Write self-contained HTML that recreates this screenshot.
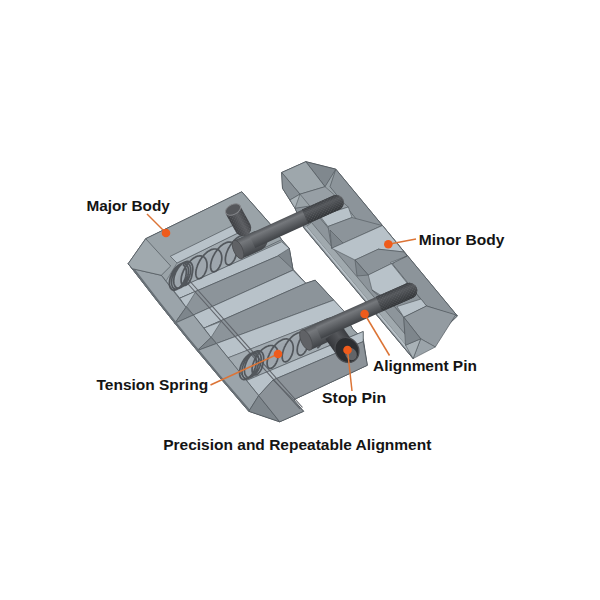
<!DOCTYPE html>
<html><head><meta charset="utf-8"><style>html,body{margin:0;padding:0;background:#fff;}svg{display:block}</style></head>
<body><svg width="600" height="600" viewBox="0 0 600 600">
<rect width="600" height="600" fill="#fff"/>
<polygon points="281.7,172.5 305.8,161.7 335.8,169.2 457.4,316.0 413.1,358.6 304.0,228.0 295.0,208.3 282.5,188.3" fill="#9aa3a8" stroke="#50575d" stroke-width="1" stroke-linejoin="round"/>
<polygon points="295.0,208.3 309.8,206.0 403.8,317.2 405.5,345.2 413.1,358.6 304.0,228.0" fill="#8d959b" stroke="#50575d" stroke-width="0.7" stroke-linejoin="round"/>
<polygon points="306.5,226.5 414.8,356.2 420.0,352.0 311.5,222.5" fill="#a0a9ae" stroke="#50575d" stroke-width="0.6" stroke-linejoin="round"/>
<polygon points="305.0,227.3 414.0,357.9 415.4,356.8 306.4,226.2" fill="#b8c1c7" stroke="none" stroke-width="0" stroke-linejoin="round"/>
<polygon points="335.8,169.2 457.4,316.0 426.5,306.0 330.0,186.7" fill="#8c949a" stroke="#50575d" stroke-width="0.7" stroke-linejoin="round"/>
<polygon points="305.8,161.7 335.8,169.2 325.0,186.7" fill="#80888e" stroke="#50575d" stroke-width="0.7" stroke-linejoin="round"/>
<polygon points="281.7,172.5 305.8,161.7 325.0,186.7 300.0,194.2" fill="#9ea7ac" stroke="#50575d" stroke-width="0.7" stroke-linejoin="round"/>
<polygon points="281.7,172.5 300.0,194.2 290.0,200.0 282.5,188.3" fill="#899197" stroke="#50575d" stroke-width="0.6" stroke-linejoin="round"/>
<polygon points="290.0,200.0 300.0,194.2 295.0,208.3" fill="#aab3b8" stroke="#50575d" stroke-width="0.6" stroke-linejoin="round"/>
<polygon points="300.0,194.2 325.0,186.7 348.3,207.0 320.0,216.0 309.8,206.0" fill="#979fa5" stroke="#50575d" stroke-width="0.6" stroke-linejoin="round"/>
<polygon points="320.0,216.0 348.3,207.0 352.0,217.5 328.0,226.5" fill="#b8c2c9" stroke="#50575d" stroke-width="0.6" stroke-linejoin="round"/>
<polygon points="328.0,226.5 352.0,217.5 382.0,225.5 331.7,248.3" fill="#8c949a" stroke="#50575d" stroke-width="0.6" stroke-linejoin="round"/>
<polygon points="330.0,230.0 331.7,248.3 343.3,243.3" fill="#7e868c" stroke="#50575d" stroke-width="0.6" stroke-linejoin="round"/>
<polygon points="331.7,248.3 382.4,225.5 404.0,252.0 378.3,249.2 355.0,260.0" fill="#b8c2c9" stroke="#50575d" stroke-width="0.6" stroke-linejoin="round"/>
<polygon points="378.3,249.2 403.3,255.0 393.3,263.3" fill="#7b8389" stroke="#50575d" stroke-width="0.6" stroke-linejoin="round"/>
<polygon points="355.0,260.0 378.3,249.2 404.0,252.0 407.0,256.0 368.3,275.0" fill="#8c949a" stroke="#50575d" stroke-width="0.6" stroke-linejoin="round"/>
<polygon points="355.0,260.0 357.0,276.0 368.3,275.0" fill="#7e868c" stroke="#50575d" stroke-width="0.6" stroke-linejoin="round"/>
<polygon points="368.3,275.0 407.0,256.0 390.5,262.5 407.0,283.0 385.0,301.0 372.0,290.0" fill="#b8c2c9" stroke="#50575d" stroke-width="0.6" stroke-linejoin="round"/>
<polygon points="372.0,290.0 385.0,301.0 407.0,283.0 426.5,306.0 403.8,317.2 388.8,300.0" fill="#8c949a" stroke="#50575d" stroke-width="0.6" stroke-linejoin="round"/>
<polygon points="397.0,306.5 421.0,299.0 426.5,306.0 403.8,317.2" fill="#b8c2c9" stroke="#50575d" stroke-width="0.6" stroke-linejoin="round"/>
<polygon points="403.8,317.2 426.5,306.0 455.7,314.8 435.3,347.0 420.7,338.8" fill="#939ba1" stroke="#50575d" stroke-width="0.7" stroke-linejoin="round"/>
<polygon points="420.7,338.8 435.3,347.0 413.1,358.6" fill="#9ba4aa" stroke="#50575d" stroke-width="0.6" stroke-linejoin="round"/>
<polygon points="405.5,345.2 420.7,338.8 413.1,358.6" fill="#a9b2b7" stroke="#50575d" stroke-width="0.6" stroke-linejoin="round"/>
<polygon points="403.8,317.2 420.7,338.8 405.5,345.2" fill="#7e868c" stroke="#50575d" stroke-width="0.6" stroke-linejoin="round"/>
<polygon points="128.2,263.7 145.7,238.7 241.8,191.8 269.5,223.2 281.7,239.7 289.3,248.4 292.9,269.2 305.8,283.3 315.2,280.2 342.7,310.0 353.0,329.5 363.2,338.7 367.3,365.3 293.7,399.7 303.6,411.3 279.7,421.8 248.8,411.3 217.6,375.0 186.3,337.5 156.3,300.0" fill="#9aa3a8" stroke="#50575d" stroke-width="1" stroke-linejoin="round"/>
<polygon points="145.7,238.7 241.8,191.8 269.5,223.2 281.7,239.7 173.5,290.4 161.3,275.3" fill="#9aa3a8" stroke="#50575d" stroke-width="0.7" stroke-linejoin="round"/>
<polygon points="177.0,263.0 248.0,228.0 248.0,256.9 173.5,290.4 166.0,281.0" fill="#a2abb1" stroke="#50575d" stroke-width="0.5" stroke-linejoin="round"/>
<polygon points="170.3,256.3 237.0,223.5 241.0,231.5 177.0,263.0" fill="#b8c2c9" stroke="#50575d" stroke-width="0.7" stroke-linejoin="round"/>
<polygon points="173.5,290.4 281.7,241.7 289.3,248.4 289.3,251.1 179.8,298.2" fill="#b8c2c9" stroke="#50575d" stroke-width="0.7" stroke-linejoin="round"/>
<polygon points="179.8,298.2 289.3,251.1 292.9,269.2 292.9,270.2 193.4,315.0" fill="#8c949a" stroke="#50575d" stroke-width="0.7" stroke-linejoin="round"/>
<polygon points="278.2,255.4 289.3,248.4 292.9,269.2" fill="#7e868c" stroke="#50575d" stroke-width="0.6" stroke-linejoin="round"/>
<polygon points="193.4,315.0 292.9,270.2 305.8,283.3 204.0,328.1" fill="#b8c2c9" stroke="#50575d" stroke-width="0.7" stroke-linejoin="round"/>
<polygon points="204.0,328.1 305.8,283.3 315.2,280.2 333.7,300.1 216.5,343.5" fill="#8c949a" stroke="#50575d" stroke-width="0.7" stroke-linejoin="round"/>
<polygon points="216.5,343.5 333.7,300.1 345.0,312.2 228.1,357.8" fill="#b8c2c9" stroke="#50575d" stroke-width="0.7" stroke-linejoin="round"/>
<polygon points="228.1,357.8 345.0,312.2 350.0,337.0 246.5,380.5" fill="#a2abb1" stroke="#50575d" stroke-width="0.5" stroke-linejoin="round"/>
<polygon points="342.0,313.4 353.0,329.5 363.2,338.7 363.2,331.5 345.0,339.1" fill="#9aa3a8" stroke="#50575d" stroke-width="0.6" stroke-linejoin="round"/>
<polygon points="246.5,380.5 363.2,331.5 363.2,341.6 273.0,380.0 258.7,395.6" fill="#b8c2c9" stroke="#50575d" stroke-width="0.7" stroke-linejoin="round"/>
<polygon points="273.0,380.0 363.2,341.6 367.3,365.3 293.7,399.7" fill="#8c9399" stroke="#50575d" stroke-width="0.7" stroke-linejoin="round"/>
<polygon points="179.8,298.2 196.0,291.2 186.0,307.3" fill="#b8c2c9" stroke="#50575d" stroke-width="0.6" stroke-linejoin="round"/>
<polygon points="204.0,328.1 221.0,321.6 211.0,337.5" fill="#b8c2c9" stroke="#50575d" stroke-width="0.6" stroke-linejoin="round"/>
<polygon points="128.2,263.7 132.3,268.7 161.3,275.3 186.0,307.3 174.8,323.3" fill="#9ba4aa" stroke="#50575d" stroke-width="0.7" stroke-linejoin="round"/>
<polygon points="186.0,307.3 174.8,323.3 193.4,315.0" fill="#7e868c" stroke="#50575d" stroke-width="0.6" stroke-linejoin="round"/>
<polygon points="174.8,323.3 193.4,315.0 211.0,337.5 197.1,350.7" fill="#9ba4aa" stroke="#50575d" stroke-width="0.7" stroke-linejoin="round"/>
<polygon points="211.0,337.5 197.1,350.7 216.5,343.5" fill="#7e868c" stroke="#50575d" stroke-width="0.6" stroke-linejoin="round"/>
<polygon points="197.1,350.7 216.5,343.5 258.7,395.6 248.8,411.3" fill="#9ba4aa" stroke="#50575d" stroke-width="0.7" stroke-linejoin="round"/>
<polygon points="128.2,263.7 156.3,300.0 186.3,337.5 217.6,375.0 248.8,411.3 250.2,410.1 219.1,374.0 187.8,336.5 157.8,299.0 129.8,262.6" fill="#687076" stroke="none" stroke-width="0" stroke-linejoin="round"/>
<polygon points="145.7,238.7 128.2,263.7 132.3,268.7 161.3,275.3 170.7,266.0" fill="#a0a9ae" stroke="#50575d" stroke-width="0.7" stroke-linejoin="round"/>
<polygon points="248.8,411.3 258.7,395.6 279.7,421.8" fill="#7e868c" stroke="#50575d" stroke-width="0.7" stroke-linejoin="round"/>
<polygon points="258.7,395.6 273.0,380.0 303.6,411.3 279.7,421.8" fill="#8b9298" stroke="#50575d" stroke-width="0.7" stroke-linejoin="round"/>
<defs><pattern id="knurl" width="2.2" height="2.2" patternUnits="userSpaceOnUse" patternTransform="rotate(30)"><rect width="2.2" height="2.2" fill="none"/><rect width="1.1" height="1.1" fill="#6a6c70"/></pattern><linearGradient id="g1" gradientUnits="userSpaceOnUse" x1="245.2" y1="215.0" x2="230.8" y2="223.0"><stop offset="0" stop-color="#3e4044"/><stop offset="0.4" stop-color="#5c5e62"/><stop offset="1" stop-color="#3a3c40"/></linearGradient><linearGradient id="g2" gradientUnits="userSpaceOnUse" x1="243.9" y1="235.9" x2="252.1" y2="254.1"><stop offset="0" stop-color="#505357"/><stop offset="0.25" stop-color="#75787c"/><stop offset="0.55" stop-color="#606367"/><stop offset="1" stop-color="#404347"/></linearGradient><linearGradient id="g3" gradientUnits="userSpaceOnUse" x1="291.1" y1="214.8" x2="297.4" y2="228.7"><stop offset="0" stop-color="#505357"/><stop offset="0.25" stop-color="#75787c"/><stop offset="0.55" stop-color="#606367"/><stop offset="1" stop-color="#404347"/></linearGradient><linearGradient id="g4" gradientUnits="userSpaceOnUse" x1="317.6" y1="202.5" x2="323.9" y2="216.5"><stop offset="0" stop-color="#3a3d41"/><stop offset="0.3" stop-color="#55585c"/><stop offset="1" stop-color="#303336"/></linearGradient><linearGradient id="g5" gradientUnits="userSpaceOnUse" x1="313.9" y1="324.3" x2="323.1" y2="344.2"><stop offset="0" stop-color="#505357"/><stop offset="0.25" stop-color="#75787c"/><stop offset="0.55" stop-color="#606367"/><stop offset="1" stop-color="#404347"/></linearGradient><linearGradient id="g6" gradientUnits="userSpaceOnUse" x1="348.6" y1="335.4" x2="331.4" y2="347.6"><stop offset="0" stop-color="#3a3c40"/><stop offset="0.4" stop-color="#55575b"/><stop offset="1" stop-color="#35373b"/></linearGradient><linearGradient id="g7" gradientUnits="userSpaceOnUse" x1="360.8" y1="303.8" x2="367.2" y2="318.2"><stop offset="0" stop-color="#505357"/><stop offset="0.25" stop-color="#75787c"/><stop offset="0.55" stop-color="#606367"/><stop offset="1" stop-color="#404347"/></linearGradient><linearGradient id="g8" gradientUnits="userSpaceOnUse" x1="391.3" y1="289.9" x2="397.7" y2="304.6"><stop offset="0" stop-color="#3a3d41"/><stop offset="0.3" stop-color="#55585c"/><stop offset="1" stop-color="#303336"/></linearGradient></defs>
<g stroke="#5d6167" stroke-width="1.1" fill="none" opacity="0.95"><line x1="184.5" y1="280" x2="300" y2="409"/><line x1="187.5" y1="278.5" x2="302.5" y2="407.5"/></g>
<polygon points="183.0,266.1 245.0,237.1 235.0,258.9 173.0,287.9" fill="#6a6e74" opacity="0.06"/>
<polygon points="252.0,356.1 323.0,325.1 313.0,346.9 242.0,377.9" fill="#6a6e74" opacity="0.06"/>
<path d="M182.9,264.8 L183.4,265.1 L183.9,265.4 L184.3,265.8 L184.7,266.2 L185.1,266.7 L185.4,267.3 L185.6,267.9 L185.9,268.6 L186.0,269.3 L186.2,270.1 L186.3,270.9 L186.3,271.7 L186.3,272.6 L186.2,273.5 L186.1,274.4 L186.0,275.3 L185.8,276.2 L185.5,277.2 L185.2,278.1 L184.9,279.1 L184.5,280.0 L184.1,280.9 L183.7,281.8 L183.2,282.7 L182.7,283.5 L182.1,284.3 L181.6,285.1 L181.0,285.8 L180.4,286.5 L179.8,287.2 L179.2,287.7 L178.6,288.3 L177.9,288.7 L177.3,289.1 L176.7,289.5 L176.0,289.7 L175.4,289.9 L174.8,290.1 L174.2,290.1 L173.7,290.1 L173.1,290.0 L172.6,289.9 L172.1,289.7 L171.7,289.4 L171.3,289.0 L170.9,288.6 L170.5,288.1 L170.2,287.6 L170.0,287.0 L169.8,286.3 L169.6,285.6 L169.5,284.9 L169.4,284.1 L169.4,283.3 L169.4,282.4 L169.5,281.5 L169.6,280.6 L169.8,279.6 L170.0,278.7 L170.2,277.7 L170.5,276.7 L170.9,275.8 L171.3,274.8 L171.7,273.9 L172.2,272.9 L172.7,272.0 L173.2,271.1 L173.7,270.2 L174.3,269.4 L174.9,268.6 L175.6,267.9 L176.2,267.2 L176.9,266.5 L177.6,265.9 L178.2,265.4 L178.9,264.9 L179.6,264.5 L180.3,264.2 L181.0,263.9 L181.6,263.7 L182.3,263.5 L182.9,263.5 L183.5,263.4 L184.1,263.5 L184.7,263.6 L185.2,263.9 L185.7,264.1 L186.2,264.5 L186.6,264.9 L187.0,265.3 L187.3,265.9 L187.6,266.4 L187.9,267.1 L188.1,267.8 L188.3,268.5 L188.4,269.3 L188.4,270.1 L188.5,270.9 L188.4,271.8 L188.4,272.7 L188.2,273.6 L188.1,274.5 L187.9,275.5 L187.6,276.4 L187.3,277.4 L186.9,278.3 L186.6,279.3 L186.1,280.2 L185.7,281.1 L185.2,281.9 L184.7,282.8 L184.2,283.6 L183.6,284.3 L183.0,285.0 L182.4,285.7 L181.8,286.3 L181.2,286.9 L180.5,287.4 L179.9,287.8 L179.3,288.2 L178.6,288.5 L178.0,288.8 L177.4,288.9 L176.8,289.1 L176.2,289.1 L175.7,289.1 L175.1,289.0 L174.6,288.8 L174.2,288.6 L173.7,288.3 L173.3,287.9 L172.9,287.5 L172.6,287.0 L172.3,286.4 L172.1,285.8 L171.9,285.1 L171.7,284.4 L171.6,283.6 L171.6,282.8 L171.5,282.0 L171.6,281.1 L171.7,280.2 L171.8,279.3 L172.0,278.4 L172.2,277.4 L172.5,276.4 L172.8,275.5 L173.2,274.5 L173.5,273.5 L174.0,272.6 L174.5,271.6 L175.0,270.7 L175.5,269.8 L176.1,269.0 L176.7,268.2 L177.3,267.4 L177.9,266.7 L178.6,266.0 L179.2,265.3 L179.9,264.8 L180.6,264.3 L181.3,263.8 L182.0,263.4 L182.6,263.1 L183.3,262.8 L184.0,262.6 L184.6,262.5 L185.2,262.4 L185.9,262.4 L186.4,262.5 L187.0,262.7 L187.5,262.9 L188.0,263.2 L188.4,263.6 L188.9,264.0 L189.2,264.5 L189.6,265.0 L189.9,265.6 L190.1,266.3 L190.3,266.9 L190.5,267.7 L190.6,268.5 L190.6,269.3 L190.6,270.2 L190.6,271.0 L190.5,271.9 L190.4,272.9 L190.2,273.8 L189.9,274.7 L189.7,275.7 L189.4,276.6 L189.0,277.6 L188.6,278.5 L188.2,279.4 L187.7,280.3 L187.2,281.1 L186.7,282.0 L186.2,282.8 L185.6,283.5 L185.0,284.2 L184.4,284.9 L183.8,285.5 L183.2,286.0 L182.5,286.5 L181.9,286.9 L181.3,287.3 L180.6,287.6 L180.0,287.8 L179.4,288.0 L178.8,288.1 L178.2,288.1 L177.7,288.0 L177.2,287.9 L176.7,287.7 L176.2,287.5 L175.8,287.1 L175.4,286.8 L175.0,286.3 L174.7,285.8 L174.4,285.2 L174.2,284.6 L174.0,283.9 L173.9,283.2 L173.8,282.4 L173.7,281.6 L173.7,280.7 L173.8,279.9 L173.9,278.9 L174.0,278.0 L174.2,277.1 L174.4,276.1 L174.7,275.1 L175.1,274.2 L175.4,273.2 L175.8,272.2 L176.3,271.3 L176.8,270.4 L177.3,269.5 L177.8,268.6 L178.4,267.7 L179.0,266.9 L179.6,266.2 L180.3,265.4 L180.9,264.8 L181.6,264.2 L182.3,263.6 L183.0,263.1 L183.6,262.7 L184.3,262.3 L185.0,262.0 L185.7,261.7 L186.3,261.6 L187.0,261.4 L187.6,261.4 L188.2,261.4 L188.8,261.6 L189.3,261.7 L189.8,262.0 L190.3,262.3 L190.7,262.7 L191.1,263.1 L191.5,263.6 L191.8,264.2 L192.1,264.8 L192.3,265.4 L192.5,266.1 L192.7,266.9 L192.7,267.7 L192.8,268.5 L192.8,269.4 L192.7,270.3 L192.6,271.2 L192.5,272.1 L192.3,273.1 L192.1,274.0 L192.0,274.8 L191.8,275.7 L191.6,276.6 L191.4,277.4 L191.1,278.3 L190.7,279.1 L190.4,279.8 L190.0,280.6 L189.6,281.3 L189.2,282.0 L188.7,282.6 L188.3,283.2 L187.8,283.7 L187.3,284.1 L186.8,284.5 L186.3,284.9 L185.8,285.1 L185.4,285.4 L184.9,285.5 L184.4,285.6 L184.0,285.6 L183.6,285.5 L183.2,285.4 L182.8,285.2 L182.5,284.9 L182.2,284.5 L181.9,284.1 L181.7,283.6 L181.4,283.1 L181.3,282.5 L181.2,281.8 L181.1,281.1 L181.1,280.4 L181.1,279.6 L181.2,278.7 L181.3,277.8 L181.4,276.9 L181.6,275.9 L181.9,274.9 L182.2,273.9 L182.6,272.9 L183.0,271.9 L183.4,270.8 L183.9,269.8 L184.4,268.8 L185.0,267.7 L185.6,266.7 L186.2,265.7 L186.9,264.8 L187.6,263.8 L188.3,262.9 L189.1,262.1 L189.9,261.3 L190.7,260.5 L191.5,259.8 L192.3,259.1 L193.1,258.5 L193.9,257.9 L194.8,257.4 L195.6,257.0 L196.4,256.6 L197.2,256.3 L198.0,256.1 L198.8,256.0 L199.6,255.9 L200.3,255.9 L201.0,255.9 L201.7,256.1 L202.4,256.2 L203.0,256.5 L203.6,256.8 L204.1,257.2 L204.6,257.7 L205.0,258.2 L205.5,258.7 L205.8,259.3 L206.1,260.0 L206.4,260.7 L206.6,261.4 L206.8,262.2 L206.9,263.0 L207.0,263.8 L207.0,264.7 L207.0,265.5 L207.0,266.4 L206.9,267.3 L206.7,268.2 L206.5,269.0 L206.3,269.9 L206.0,270.8 L205.7,271.6 L205.4,272.4 L205.0,273.1 L204.6,273.9 L204.2,274.6 L203.8,275.2 L203.3,275.8 L202.9,276.4 L202.4,276.9 L201.9,277.3 L201.4,277.7 L200.9,278.0 L200.5,278.3 L200.0,278.5 L199.5,278.6 L199.1,278.7 L198.6,278.6 L198.2,278.6 L197.8,278.4 L197.5,278.2 L197.1,277.9 L196.8,277.5 L196.6,277.1 L196.3,276.6 L196.2,276.0 L196.0,275.4 L195.9,274.7 L195.8,274.0 L195.8,273.2 L195.9,272.4 L195.9,271.5 L196.1,270.6 L196.2,269.7 L196.5,268.7 L196.7,267.7 L197.1,266.7 L197.4,265.7 L197.8,264.7 L198.3,263.6 L198.8,262.6 L199.3,261.6 L199.9,260.5 L200.5,259.5 L201.2,258.6 L201.9,257.6 L202.6,256.7 L203.3,255.8 L204.1,254.9 L204.9,254.1 L205.7,253.4 L206.5,252.6 L207.3,252.0 L208.1,251.4 L208.9,250.9 L209.8,250.4 L210.6,250.0 L211.4,249.6 L212.2,249.4 L213.0,249.2 L213.8,249.0 L214.5,249.0 L215.3,249.0 L216.0,249.0 L216.7,249.2 L217.3,249.4 L217.9,249.7 L218.5,250.0 L219.0,250.4 L219.5,250.9 L219.9,251.4 L220.3,252.0 L220.7,252.6 L221.0,253.3 L221.2,254.0 L221.4,254.7 L221.6,255.5 L221.7,256.3 L221.8,257.2 L221.8,258.0 L221.8,258.9 L221.7,259.8 L221.6,260.6 L221.4,261.5 L221.2,262.4 L221.0,263.2 L220.7,264.1 L220.4,264.9 L220.1,265.7 L219.7,266.5 L219.3,267.2 L218.9,267.9 L218.4,268.5 L218.0,269.1 L217.5,269.6 L217.0,270.1 L216.5,270.5 L216.0,270.9 L215.6,271.2 L215.1,271.5 L214.6,271.6 L214.1,271.7 L213.7,271.8 L213.3,271.7 L212.9,271.6 L212.5,271.4 L212.1,271.2 L211.8,270.9 L211.5,270.5 L211.3,270.0 L211.0,269.5 L210.9,269.0 L210.7,268.3 L210.6,267.6 L210.6,266.9 L210.6,266.1 L210.6,265.3 L210.7,264.4 L210.9,263.5 L211.1,262.5 L211.3,261.5 L211.6,260.5 L211.9,259.5 L212.3,258.5 L212.7,257.5 L213.2,256.4 L213.7,255.4 L214.3,254.4 L214.8,253.3 L215.5,252.3 L216.1,251.4 L216.8,250.4 L217.5,249.5 L218.3,248.6 L219.0,247.8 L219.8,247.0 L220.6,246.2 L221.5,245.5 L222.3,244.9 L223.1,244.3 L223.9,243.8 L224.8,243.4 L225.6,243.0 L226.4,242.6 L227.2,242.4 L228.0,242.2 L228.8,242.1 L229.5,242.0 L230.2,242.1 L230.9,242.2 L231.6,242.3 L232.2,242.6 L232.8,242.9 L233.4,243.2 L233.9,243.6 L234.4,244.1 L234.8,244.7 L235.2,245.3 L235.5,245.9 L235.8,246.6 L236.1,247.3 L236.3,248.1 L236.4,248.8 L236.5,249.7 L236.6,250.5 L236.6,251.4 L236.5,252.2 L236.4,253.1 L236.3,254.0 L236.1,254.9 L235.9,255.7 L235.7,256.6 L235.4,257.4 L235.1,258.2 L234.7,259.0 L234.3,259.8 L233.9,260.5 L233.5,261.1 L233.0,261.8 L232.6,262.3 L232.1,262.9 L231.6,263.3 L231.2,263.8 L230.7,264.1 L230.2,264.4 L229.7,264.6 L229.2,264.8 L228.8,264.8 L228.3,264.8 L227.9,264.8 L227.5,264.7 L227.1,264.5 L226.8,264.2 L226.5,263.9 L226.2,263.5 L225.9,263.0 L225.7,262.5 L225.6,261.9 L225.5,261.2 L225.4,260.5 L225.3,259.8 L225.4,259.0 L225.4,258.1 L225.5,257.2 L225.7,256.3 L225.9,255.3 L226.1,254.4 L226.4,253.3 L226.8,252.3 L227.2,251.3 L227.6,250.3 L228.1,249.2 L228.6,248.2 L229.2,247.2 L229.8,246.1 L230.4,245.2 L231.1,244.2 L231.8,243.2 L232.5,242.3 L233.3,241.5 L234.0,240.6 L234.8,239.9 L235.6,239.1 L236.4,238.4 L237.3,237.8 L238.1,237.3 L238.9,236.8 L239.8,236.3 L240.6,236.0 L241.4,235.7 L242.2,235.4 L243.0,235.3 L243.7,235.2 L244.5,235.1 L245.2,235.2 L245.9,235.3" fill="none" stroke="#4e5257" stroke-width="1.7" opacity="0.95"/>
<path d="M252.9,354.3 L253.4,354.6 L253.9,354.9 L254.4,355.3 L254.8,355.8 L255.2,356.4 L255.5,357.0 L255.8,357.7 L256.0,358.4 L256.1,359.2 L256.3,360.0 L256.3,360.9 L256.3,361.8 L256.3,362.7 L256.2,363.7 L256.0,364.7 L255.8,365.6 L255.6,366.6 L255.3,367.6 L254.9,368.6 L254.5,369.6 L254.1,370.6 L253.6,371.5 L253.1,372.4 L252.6,373.3 L252.0,374.2 L251.4,375.0 L250.8,375.7 L250.1,376.4 L249.5,377.0 L248.8,377.6 L248.2,378.1 L247.5,378.5 L246.8,378.9 L246.2,379.2 L245.5,379.4 L244.9,379.5 L244.3,379.6 L243.7,379.6 L243.1,379.5 L242.6,379.3 L242.1,379.0 L241.7,378.7 L241.2,378.3 L240.9,377.8 L240.5,377.3 L240.2,376.7 L240.0,376.0 L239.8,375.3 L239.7,374.5 L239.6,373.7 L239.6,372.8 L239.6,371.9 L239.7,370.9 L239.8,370.0 L240.0,369.0 L240.2,368.0 L240.5,366.9 L240.8,365.9 L241.2,364.9 L241.6,363.9 L242.1,362.9 L242.6,361.9 L243.2,360.9 L243.8,360.0 L244.4,359.1 L245.0,358.3 L245.7,357.5 L246.4,356.7 L247.1,356.0 L247.8,355.4 L248.5,354.8 L249.2,354.3 L250.0,353.9 L250.7,353.6 L251.4,353.3 L252.1,353.1 L252.8,352.9 L253.5,352.9 L254.1,352.9 L254.7,353.0 L255.3,353.2 L255.8,353.5 L256.3,353.8 L256.8,354.2 L257.2,354.7 L257.6,355.3 L257.9,355.9 L258.2,356.5 L258.4,357.3 L258.6,358.0 L258.7,358.9 L258.8,359.7 L258.8,360.6 L258.7,361.6 L258.6,362.5 L258.5,363.5 L258.3,364.5 L258.0,365.5 L257.7,366.5 L257.4,367.5 L257.0,368.5 L256.6,369.4 L256.1,370.4 L255.6,371.3 L255.1,372.2 L254.5,373.0 L253.9,373.8 L253.3,374.6 L252.6,375.3 L252.0,375.9 L251.3,376.5 L250.7,377.0 L250.0,377.4 L249.3,377.8 L248.7,378.1 L248.0,378.3 L247.4,378.5 L246.8,378.5 L246.2,378.5 L245.6,378.4 L245.1,378.2 L244.6,378.0 L244.1,377.7 L243.7,377.3 L243.3,376.8 L243.0,376.3 L242.7,375.7 L242.4,375.0 L242.3,374.3 L242.1,373.5 L242.0,372.7 L242.0,371.8 L242.0,370.9 L242.1,370.0 L242.2,369.0 L242.4,368.0 L242.6,367.0 L242.9,366.0 L243.2,364.9 L243.6,363.9 L244.1,362.9 L244.5,361.9 L245.0,360.9 L245.6,359.9 L246.2,359.0 L246.8,358.1 L247.4,357.3 L248.1,356.5 L248.8,355.7 L249.5,355.0 L250.2,354.4 L250.9,353.8 L251.6,353.3 L252.4,352.9 L253.1,352.5 L253.8,352.2 L254.5,352.0 L255.2,351.9 L255.8,351.8 L256.5,351.9 L257.1,352.0 L257.7,352.1 L258.2,352.4 L258.7,352.7 L259.2,353.1 L259.6,353.6 L260.0,354.1 L260.3,354.7 L260.6,355.4 L260.8,356.1 L261.0,356.9 L261.1,357.7 L261.2,358.6 L261.2,359.5 L261.2,360.4 L261.1,361.4 L260.9,362.4 L260.7,363.4 L260.5,364.3 L260.2,365.3 L259.9,366.3 L259.5,367.3 L259.0,368.3 L258.6,369.2 L258.1,370.2 L257.5,371.1 L257.0,371.9 L256.4,372.7 L255.8,373.5 L255.1,374.2 L254.5,374.8 L253.8,375.4 L253.2,375.9 L252.5,376.3 L251.8,376.7 L251.2,377.0 L250.5,377.2 L249.9,377.4 L249.3,377.5 L248.7,377.4 L248.1,377.4 L247.6,377.2 L247.1,377.0 L246.6,376.6 L246.2,376.2 L245.8,375.8 L245.5,375.3 L245.2,374.7 L244.9,374.0 L244.7,373.3 L244.6,372.5 L244.5,371.7 L244.4,370.8 L244.5,369.9 L244.5,369.0 L244.6,368.0 L244.8,367.0 L245.0,366.0 L245.3,365.0 L245.7,363.9 L246.0,362.9 L246.5,361.9 L246.9,360.9 L247.4,359.9 L248.0,358.9 L248.6,358.0 L249.2,357.1 L249.8,356.3 L250.5,355.5 L251.2,354.7 L251.9,354.0 L252.6,353.4 L253.3,352.8 L254.0,352.3 L254.7,351.8 L255.5,351.5 L256.2,351.2 L256.9,351.0 L257.6,350.8 L258.2,350.8 L258.9,350.8 L259.5,350.9 L260.1,351.1 L260.6,351.3 L261.1,351.6 L261.6,352.0 L262.0,352.5 L262.4,353.0 L262.7,353.6 L263.0,354.3 L263.3,355.0 L263.4,355.8 L263.6,356.6 L263.6,357.5 L263.7,358.4 L263.6,359.3 L263.5,360.2 L263.4,361.2 L263.2,362.2 L263.0,363.2 L262.9,364.1 L262.7,365.0 L262.5,365.9 L262.2,366.8 L261.9,367.7 L261.6,368.6 L261.2,369.4 L260.8,370.2 L260.4,370.9 L259.9,371.6 L259.4,372.2 L258.9,372.8 L258.4,373.3 L257.9,373.8 L257.4,374.2 L256.9,374.5 L256.4,374.7 L255.9,374.9 L255.4,375.0 L255.0,375.0 L254.5,374.9 L254.1,374.8 L253.7,374.5 L253.4,374.2 L253.1,373.9 L252.8,373.4 L252.5,372.9 L252.4,372.3 L252.2,371.6 L252.1,370.9 L252.1,370.1 L252.1,369.3 L252.1,368.4 L252.2,367.5 L252.4,366.5 L252.6,365.5 L252.9,364.5 L253.2,363.4 L253.6,362.3 L254.0,361.2 L254.5,360.1 L255.1,359.0 L255.6,358.0 L256.2,356.9 L256.9,355.8 L257.6,354.8 L258.3,353.8 L259.1,352.8 L259.9,351.9 L260.7,351.0 L261.5,350.2 L262.4,349.4 L263.3,348.7 L264.1,348.1 L265.0,347.5 L265.9,347.0 L266.8,346.5 L267.7,346.2 L268.5,345.9 L269.4,345.7 L270.2,345.5 L271.0,345.5 L271.8,345.5 L272.5,345.6 L273.2,345.8 L273.9,346.0 L274.5,346.3 L275.1,346.7 L275.6,347.2 L276.1,347.7 L276.6,348.3 L277.0,349.0 L277.3,349.7 L277.6,350.4 L277.8,351.2 L278.0,352.0 L278.1,352.9 L278.2,353.8 L278.2,354.7 L278.2,355.6 L278.1,356.5 L278.0,357.5 L277.8,358.4 L277.6,359.3 L277.3,360.2 L277.0,361.1 L276.6,361.9 L276.3,362.8 L275.9,363.6 L275.4,364.3 L275.0,365.0 L274.5,365.6 L274.0,366.2 L273.5,366.7 L273.0,367.2 L272.5,367.6 L272.0,367.9 L271.5,368.1 L271.0,368.3 L270.5,368.4 L270.0,368.4 L269.6,368.4 L269.2,368.2 L268.8,368.0 L268.4,367.7 L268.1,367.3 L267.8,366.9 L267.6,366.4 L267.4,365.8 L267.3,365.1 L267.2,364.4 L267.1,363.6 L267.1,362.8 L267.2,361.9 L267.3,361.0 L267.4,360.0 L267.7,359.0 L267.9,358.0 L268.3,356.9 L268.6,355.8 L269.1,354.8 L269.5,353.7 L270.1,352.6 L270.6,351.5 L271.2,350.4 L271.9,349.3 L272.6,348.3 L273.3,347.3 L274.1,346.3 L274.9,345.4 L275.7,344.5 L276.5,343.7 L277.4,342.9 L278.2,342.2 L279.1,341.5 L280.0,341.0 L280.9,340.4 L281.8,340.0 L282.6,339.6 L283.5,339.3 L284.3,339.1 L285.2,339.0 L286.0,338.9 L286.7,338.9 L287.5,339.0 L288.2,339.2 L288.9,339.4 L289.5,339.7 L290.1,340.1 L290.6,340.6 L291.1,341.1 L291.6,341.7 L292.0,342.3 L292.3,343.0 L292.6,343.8 L292.8,344.6 L293.0,345.4 L293.2,346.2 L293.2,347.1 L293.3,348.0 L293.2,348.9 L293.2,349.9 L293.0,350.8 L292.8,351.7 L292.6,352.7 L292.4,353.6 L292.1,354.5 L291.7,355.3 L291.3,356.1 L290.9,356.9 L290.5,357.7 L290.1,358.4 L289.6,359.0 L289.1,359.6 L288.6,360.1 L288.1,360.6 L287.6,361.0 L287.1,361.3 L286.6,361.6 L286.1,361.7 L285.6,361.8 L285.1,361.9 L284.7,361.8 L284.3,361.7 L283.9,361.5 L283.5,361.2 L283.2,360.8 L282.9,360.4 L282.7,359.8 L282.5,359.3 L282.3,358.6 L282.2,357.9 L282.2,357.1 L282.2,356.3 L282.2,355.4 L282.3,354.5 L282.5,353.5 L282.7,352.5 L283.0,351.5 L283.3,350.4 L283.6,349.4 L284.1,348.3 L284.5,347.2 L285.1,346.1 L285.6,345.0 L286.2,343.9 L286.9,342.9 L287.6,341.8 L288.3,340.8 L289.1,339.8 L289.9,338.9 L290.7,338.0 L291.5,337.2 L292.4,336.4 L293.2,335.7 L294.1,335.0 L295.0,334.4 L295.9,333.9 L296.7,333.5 L297.6,333.1 L298.5,332.8 L299.3,332.5 L300.1,332.4 L300.9,332.3 L301.7,332.3 L302.5,332.4 L303.2,332.6 L303.9,332.8 L304.5,333.1 L305.1,333.5 L305.6,334.0 L306.1,334.5 L306.6,335.1 L307.0,335.7 L307.3,336.4 L307.6,337.1 L307.9,337.9 L308.1,338.7 L308.2,339.6 L308.3,340.5 L308.3,341.4 L308.3,342.3 L308.2,343.2 L308.1,344.2 L307.9,345.1 L307.7,346.0 L307.4,346.9 L307.1,347.8 L306.8,348.7 L306.4,349.5 L306.0,350.3 L305.6,351.0 L305.1,351.7 L304.7,352.4 L304.2,353.0 L303.7,353.5 L303.2,354.0 L302.7,354.4 L302.2,354.7 L301.6,355.0 L301.2,355.2 L300.7,355.3 L300.2,355.3 L299.8,355.2 L299.3,355.1 L298.9,354.9 L298.6,354.6 L298.3,354.3 L298.0,353.8 L297.7,353.3 L297.5,352.7 L297.4,352.1 L297.3,351.4 L297.2,350.6 L297.2,349.8 L297.3,348.9 L297.4,348.0 L297.5,347.0 L297.7,346.0 L298.0,345.0 L298.3,344.0 L298.7,342.9 L299.1,341.8 L299.5,340.7 L300.1,339.6 L300.6,338.5 L301.2,337.4 L301.9,336.4 L302.6,335.3 L303.3,334.3 L304.0,333.4 L304.8,332.4 L305.6,331.5 L306.5,330.7 L307.3,329.9 L308.2,329.2 L309.1,328.5 L309.9,327.9 L310.8,327.4 L311.7,326.9 L312.6,326.5 L313.4,326.2 L314.3,326.0 L315.1,325.8 L315.9,325.8 L316.7,325.8 L317.5,325.8 L318.2,326.0 L318.8,326.2 L319.5,326.5 L320.1,326.9 L320.6,327.4 L321.1,327.9 L321.6,328.5 L322.0,329.1 L322.4,329.8 L322.7,330.5 L322.9,331.3 L323.1,332.1 L323.2,333.0 L323.3,333.8 L323.3,334.7 L323.3,335.7 L323.3,336.6 L323.1,337.5 L323.0,338.5 L322.8,339.4 L322.5,340.3 L322.2,341.2 L321.9,342.0 L321.5,342.9 L321.1,343.7 L320.7,344.4 L320.2,345.1 L319.8,345.8 L319.3,346.4 L318.8,346.9 L318.3,347.4 L317.8,347.8 L317.2,348.1" fill="none" stroke="#4e5257" stroke-width="1.7" opacity="0.95"/>
<path d="M240.2,206.0 L250.2,224.0 A8.2,8.2 0 0 1 235.8,232.0 L225.8,214.0 Z" fill="url(#g1)"/><path d="M240.2,206.0 L250.2,224.0 A8.2,8.2 0 0 1 235.8,232.0 L225.8,214.0 Z" fill="url(#knurl)" opacity="0.5"/>
<ellipse cx="233" cy="209.5" rx="8.2" ry="5" transform="rotate(-28 233 209.5)" fill="#55575b" stroke="#85878b" stroke-width="1"/>
<path d="M233.9,240.4 L253.9,231.4 A10,10 0 0 1 262.1,249.6 L242.1,258.6 Z" fill="url(#g2)"/>
<ellipse cx="238" cy="249.5" rx="4.5" ry="10" transform="rotate(-24 238 249.5)" fill="#606266" stroke="#4a4c50" stroke-width="0.8"/>
<path d="M248.8,234.1 L333.3,195.6 A7.6,7.6 0 0 1 339.7,209.4 L255.2,247.9 Z" fill="url(#g3)"/>
<path d="M301.9,209.5 L333.4,195.5 A7.7,7.7 0 0 1 339.6,209.5 L308.1,223.5 Z" fill="url(#g4)"/><path d="M301.9,209.5 L333.4,195.5 A7.7,7.7 0 0 1 339.6,209.5 L308.1,223.5 Z" fill="url(#knurl)" opacity="0.5"/>
<path d="M301.4,330.0 L326.4,318.5 A11,11 0 0 1 335.6,338.5 L310.6,350.0 Z" fill="url(#g5)"/>
<ellipse cx="306" cy="340" rx="5" ry="11" transform="rotate(-24 306 340)" fill="#606266" stroke="#4a4c50" stroke-width="0.8"/>
<path d="M342.6,326.9 L354.6,343.9 L337.4,356.1 L325.4,339.1 Z" fill="url(#g6)"/>
<ellipse cx="347" cy="350" rx="11.5" ry="13" transform="rotate(-35 347 350)" fill="#2c2e31" stroke="#4a4c50" stroke-width="1.2"/>
<ellipse cx="351" cy="354" rx="5.5" ry="6.5" transform="rotate(-35 351 354)" fill="#626468"/>
<path d="M314.8,324.3 L406.8,283.3 A7.9,7.9 0 0 1 413.2,297.7 L321.2,338.7 Z" fill="url(#g7)"/>
<path d="M375.8,296.7 L406.8,283.2 A8,8 0 0 1 413.2,297.8 L382.2,311.3 Z" fill="url(#g8)"/><path d="M375.8,296.7 L406.8,283.2 A8,8 0 0 1 413.2,297.8 L382.2,311.3 Z" fill="url(#knurl)" opacity="0.5"/>

<g stroke="#dc7436" stroke-width="1.5" fill="none">
<line x1="147" y1="214" x2="166" y2="233"/>
<line x1="388.3" y1="244.2" x2="416" y2="239"/>
<line x1="364.6" y1="314" x2="389.5" y2="355.5"/>
<line x1="347.5" y1="350" x2="352" y2="391"/>
<line x1="210.5" y1="385" x2="278" y2="354"/>
</g>
<g fill="#ef5b1b">
<circle cx="166" cy="233" r="4.3"/>
<circle cx="388.3" cy="244.2" r="4.3"/>
<circle cx="364.6" cy="314" r="4.3"/>
<circle cx="347.5" cy="350" r="4.3"/>
<circle cx="278" cy="354" r="4.3"/>
</g>
<text x="86.4" y="210.8" font-size="15" textLength="83.5" font-family="&quot;Liberation Sans&quot;, sans-serif" font-weight="bold" fill="#141414" lengthAdjust="spacingAndGlyphs">Major Body</text>
<text x="418.75" y="244.7" font-size="15" textLength="85.6" font-family="&quot;Liberation Sans&quot;, sans-serif" font-weight="bold" fill="#141414" lengthAdjust="spacingAndGlyphs">Minor Body</text>
<text x="373" y="371" font-size="15" textLength="103.9" font-family="&quot;Liberation Sans&quot;, sans-serif" font-weight="bold" fill="#141414" lengthAdjust="spacingAndGlyphs">Alignment Pin</text>
<text x="322.1" y="402.5" font-size="15" textLength="64" font-family="&quot;Liberation Sans&quot;, sans-serif" font-weight="bold" fill="#141414" lengthAdjust="spacingAndGlyphs">Stop Pin</text>
<text x="96.5" y="390" font-size="15" textLength="111.6" font-family="&quot;Liberation Sans&quot;, sans-serif" font-weight="bold" fill="#141414" lengthAdjust="spacingAndGlyphs">Tension Spring</text>
<text x="163.2" y="450" font-size="15" textLength="268.2" font-family="&quot;Liberation Sans&quot;, sans-serif" font-weight="bold" fill="#141414" lengthAdjust="spacingAndGlyphs">Precision and Repeatable Alignment</text>

</svg></body></html>
